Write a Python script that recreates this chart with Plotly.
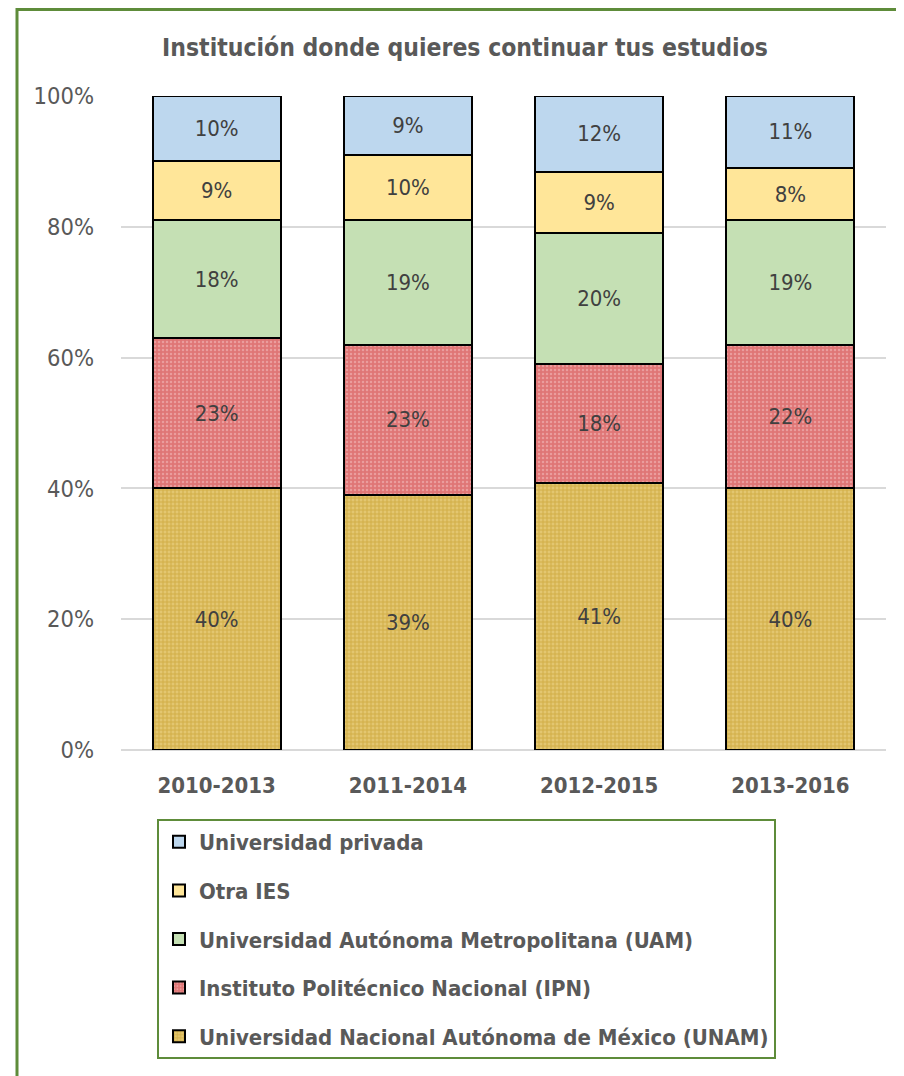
import plotly.graph_objects as go

periodos = ["2010-2013", "2011-2014", "2012-2015", "2013-2016"]
unam = [0.40, 0.39, 0.409, 0.40]
ipn = [0.23, 0.23, 0.181, 0.22]
uam = [0.18, 0.19, 0.200, 0.19]
otra = [0.09, 0.10, 0.094, 0.08]
privada = [0.10, 0.09, 0.116, 0.11]

FONT = "Liberation Sans Narrow, Arial Narrow, DejaVu Sans Condensed, sans-serif"
GRAY = "#595959"
GREEN = "#5E8C3A"

W, H = 896, 1068          # page adds an 8px body margin
L, T = 113, 88            # plot area: page x 121..886, y 96..750
PW, PH = 765, 654

series = [
    ("Universidad Nacional Autónoma de México (UNAM)", unam,
     dict(color="#D9B74C", pattern=dict(shape="+", fgcolor="#BF951F", bgcolor="#E3C670", size=4, solidity=0.45)), 5),
    ("Instituto Politécnico Nacional (IPN)", ipn,
     dict(color="#E07A7A", pattern=dict(shape=".", fgcolor="#F4C4C4", bgcolor="#DF7676", size=4, solidity=0.3)), 4),
    ("Universidad Autónoma Metropolitana (UAM)", uam, dict(color="#C5E0B4"), 3),
    ("Otra IES", otra, dict(color="#FFE699"), 2),
    ("Universidad privada", privada, dict(color="#BDD7EE"), 1),
]

fig = go.Figure()
for i, (name, vals, mk, rank) in enumerate(series):
    mk = dict(mk)
    mk["line"] = dict(color="black", width=2)
    fig.add_trace(go.Bar(
        name=name, x=periodos, y=vals, marker=mk,
        legendgroup=f"g{i}", legendrank=rank,
        texttemplate="%{y:.0%}", textposition="inside", insidetextanchor="middle",
        textangle=0, constraintext="none",
        textfont=dict(family=FONT, size=22, color="#404040"),
        hoverinfo="skip",
    ))

fig.update_layout(
    width=W, height=H,
    margin=dict(l=L, r=W - L - PW, t=T, b=H - T - PH, autoexpand=False),
    paper_bgcolor="white", plot_bgcolor="white",
    barmode="stack", bargap=0.33,
    font=dict(family=FONT, color=GRAY),
    title=dict(text="<b>Institución donde quieres continuar tus estudios</b>",
               x=457 / W, xref="container", xanchor="center",
               y=1 - 39 / H, yref="container", yanchor="middle",
               font=dict(family=FONT, size=24.5, color=GRAY)),
    xaxis=dict(tickfont=dict(family=FONT, size=22, color=GRAY, weight="bold"),
               showgrid=False, showline=False, ticks="", ticklabelstandoff=20),
    yaxis=dict(range=[0, 1], dtick=0.2, tickformat=".0%",
               tickfont=dict(family=FONT, size=23.5, color=GRAY),
               showgrid=True, gridcolor="#D9D9D9", gridwidth=2,
               zeroline=True, zerolinecolor="#D9D9D9", zerolinewidth=2,
               showline=False, ticks="", ticklabelstandoff=26),
    legend=dict(traceorder="grouped", tracegroupgap=17,
                x=(157 - 121) / PW, xanchor="left",
                y=(750 - 819) / PH, yanchor="top",
                bordercolor=GREEN, borderwidth=2, bgcolor="white",
                font=dict(family=FONT, size=22, color=GRAY, weight="bold"),
                itemclick=False),
    showlegend=True,
)

fig.add_shape(type="rect", xref="paper", yref="paper",
              x0=(17 - 121) / PW, x1=(915 - 121) / PW,
              y0=(750 - 1090) / PH, y1=(750 - 9.5) / PH,
              line=dict(color=GREEN, width=3), fillcolor="rgba(0,0,0,0)", layer="below")

fig.write_html("out.html")
